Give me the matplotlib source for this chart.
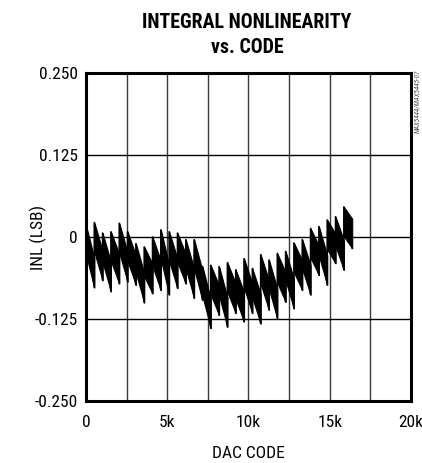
import numpy as np
import matplotlib
matplotlib.use("Agg")
import matplotlib.pyplot as plt
from matplotlib import font_manager

# pick a narrow sans if one is installed
names = set(f.name for f in font_manager.fontManager.ttflist)
narrow = "DejaVu Sans"
for cand in ["Liberation Sans Narrow", "Arial Narrow", "Roboto Condensed",
             "Archivo Narrow", "PT Sans Narrow", "IBM Plex Sans Condensed",
             "Encode Sans Condensed", "Open Sans Condensed"]:
    if cand in names:
        narrow = cand
        break
plt.rcParams['font.family'] = [narrow, 'DejaVu Sans']

# INL sawtooth, one segment every 512 codes
seg_start = np.arange(0, 16384, 512)
seg_peak = [0.018, 0.022, 0.006, 0.008, 0.021, 0.008, -0.010, -0.015,
            0.000, 0.011, 0.008, 0.006, -0.004, -0.004, -0.045, -0.043,
            -0.045, -0.039, -0.050, -0.033, -0.048, -0.027, -0.035, -0.025,
            -0.022, -0.009, -0.004, 0.013, 0.016, 0.026, 0.031, 0.046]
seg_trough = [-0.077, -0.066, -0.083, -0.071, -0.068, -0.073, -0.100, -0.086,
              -0.081, -0.088, -0.078, -0.071, -0.093, -0.096, -0.139, -0.119,
              -0.137, -0.116, -0.129, -0.116, -0.132, -0.111, -0.124, -0.099,
              -0.109, -0.081, -0.088, -0.058, -0.073, -0.040, -0.050, -0.017]

xticks = [0, 5000, 10000, 15000, 20000]
xticklabels = ["0", "5k", "10k", "15k", "20k"]
yticks = [-0.25, -0.125, 0, 0.125, 0.25]
yticklabels = ["-0.250", "-0.125", "0", "0.125", "0.250"]

band = 0.045  # trace thickness

fig = plt.figure(figsize=(4.22, 4.63), dpi=100)
ax = fig.add_axes([0.2038, 0.134, 0.770, 0.708])

for x in np.arange(2500, 20000, 2500):
    ax.axvline(x, color="#3a3a3a", lw=1.0, zorder=1)
for y in [-0.125, 0, 0.125]:
    ax.axhline(y, color="black", lw=1.0, zorder=1)

xs, ys = [], []
for s, p, t in zip(seg_start, seg_peak, seg_trough):
    e = s + 511
    ax.fill_between([s, e], [p - band, t], [p, t + band], color="black",
                    lw=0.8, edgecolor="black", zorder=3)
    xs += [s, e]
    ys += [p, t]
ax.plot(xs, ys, color="black", lw=1.2, zorder=3)

ax.set_xlim(0, 20000)
ax.set_ylim(-0.25, 0.25)
ax.set_xticks(xticks)
ax.set_xticklabels(xticklabels)
ax.set_yticks(yticks)
ax.set_yticklabels(yticklabels)
ax.tick_params(length=0, labelsize=12.5, pad=6)
ax.tick_params(axis="x", pad=10)
for sp in ax.spines.values():
    sp.set_linewidth(2.2)

fig.text(248 / 422, 1 - 454 / 463, "DAC CODE", ha="center", va="center",
         fontsize=12.5)
fig.text(38 / 422, 1 - 237 / 463, "INL (LSB)", ha="center", va="center",
         rotation=90, fontsize=12.5)

fig.text(0.585, 0.952, "INTEGRAL NONLINEARITY", ha="center", va="center",
         fontsize=14.3, fontweight="bold")
fig.text(0.585, 0.898, "vs. CODE", ha="center", va="center",
         fontsize=14.3, fontweight="bold")
fig.text(0.990, 0.782, "MAX5444/MAX5445-07", rotation=90, ha="center",
         va="center", fontsize=5, style="italic", color="#555555")

fig.savefig("out.png", dpi=100)
